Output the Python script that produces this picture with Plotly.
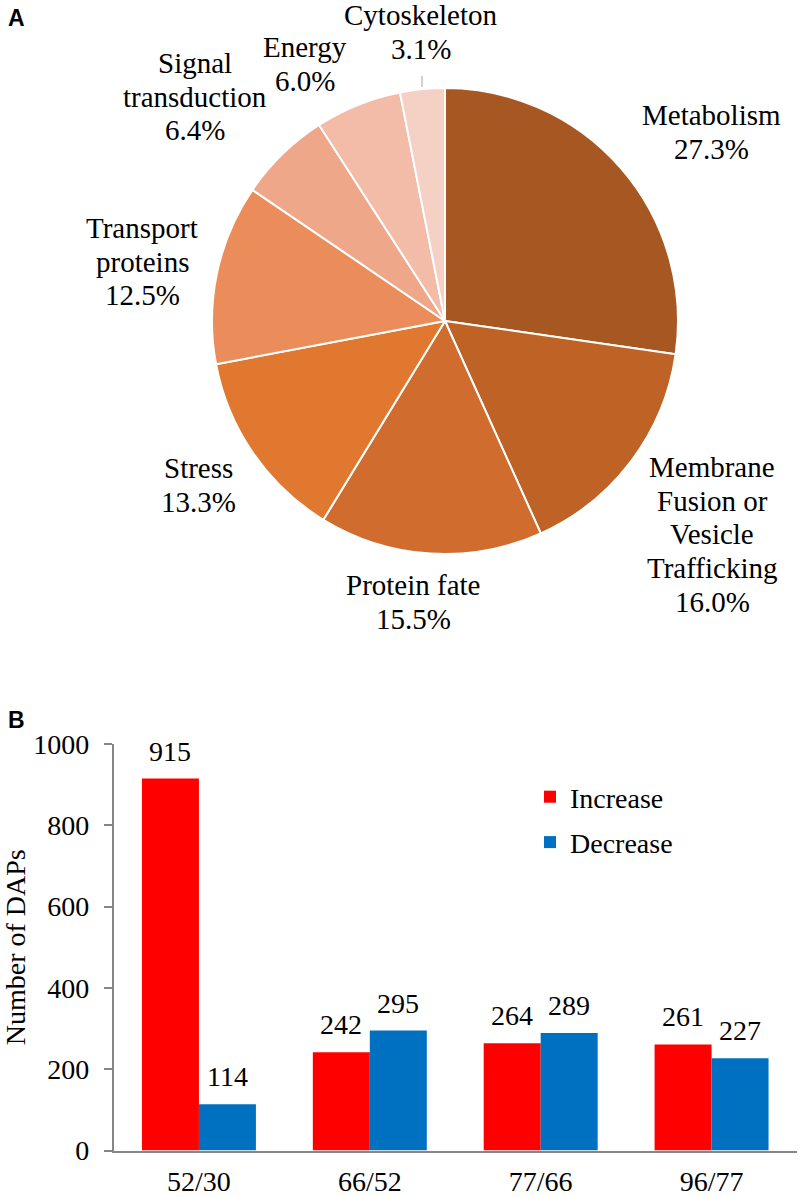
import plotly.graph_objects as go

# ---- Panel A data ----
pie_categories = ["Metabolism", "Membrane Fusion or Vesicle Trafficking", "Protein fate",
                  "Stress", "Transport proteins", "Signal transduction", "Energy", "Cytoskeleton"]
pie_label_lines = [["Metabolism"], ["Membrane", "Fusion or", "Vesicle", "Trafficking"],
                   ["Protein fate"], ["Stress"], ["Transport", "proteins"],
                   ["Signal", "transduction"], ["Energy"], ["Cytoskeleton"]]
pie_values = [27.3, 16.0, 15.5, 13.3, 12.5, 6.4, 6.0, 3.1]
pie_colors = ["#A65722", "#BF6226", "#D06C2D", "#E17830", "#EB8D5A", "#EFA789", "#F2BCA8", "#F5D0C4"]

# ---- Panel B data ----
bar_categories = ["52/30", "66/52", "77/66", "96/77"]
increase = [915, 242, 264, 261]
decrease = [114, 295, 289, 227]

W, H = 800, 1197
SERIF = "Liberation Serif"
SANS = "Liberation Sans"

fig = go.Figure()

# pie (centre 445,321 px; radius 233 px)
cx, cy, r = 445, 321, 233
fig.add_trace(go.Pie(
    labels=pie_categories, values=pie_values, sort=False, direction="clockwise",
    rotation=0, textinfo="none", hoverinfo="label+percent",
    marker=dict(colors=pie_colors, line=dict(color="white", width=2)),
    domain=dict(x=[(cx - r) / W, (cx + r) / W], y=[1 - (cy + r) / H, 1 - (cy - r) / H]),
    showlegend=False,
))

# bars
fig.add_trace(go.Bar(name="Increase", x=bar_categories, y=increase,
                     marker=dict(color="#FF0000", line=dict(width=0)),
                     legendgroup="inc"))
fig.add_trace(go.Bar(name="Decrease", x=bar_categories, y=decrease,
                     marker=dict(color="#0070C0", line=dict(width=0)),
                     legendgroup="dec"))

annotations = []
# pie labels (pixel anchors of first line centre)
label_pos = [(711, 115), (712, 467), (413, 585), (198, 468), (142, 228),
             (195, 63), (305, 47), (421, 15)]
LS = 33.7
for lines, v, (px, py) in zip(pie_label_lines, pie_values, label_pos):
    all_lines = lines + [f"{v:.1f}%"]
    for i, t in enumerate(all_lines):
        annotations.append(dict(
            text=t, x=px / W, y=1 - (py + i * LS) / H, xref="paper", yref="paper",
            xanchor="center", yanchor="middle", showarrow=False,
            font=dict(family=SERIF, size=29, color="black")))

# bar value labels
half = 28.5
for cat, a, b in zip(bar_categories, increase, decrease):
    for val, xs in ((a, -half), (b, half)):
        annotations.append(dict(
            text=str(val), x=cat, y=val, xref="x", yref="y", xshift=xs, yshift=10,
            xanchor="center", yanchor="bottom", showarrow=False,
            font=dict(family=SERIF, size=28, color="black")))

# panel letters
annotations.append(dict(text="<b>A</b>", x=16 / W, y=1 - 18 / H, xref="paper", yref="paper",
                        xanchor="center", yanchor="middle", showarrow=False,
                        font=dict(family=SANS, size=23, color="black")))
annotations.append(dict(text="<b>B</b>", x=16 / W, y=1 - 720 / H, xref="paper", yref="paper",
                        xanchor="center", yanchor="middle", showarrow=False,
                        font=dict(family=SANS, size=23, color="black")))

shapes = [dict(type="line", xref="paper", yref="paper", x0=422 / W, x1=422 / W,
               y0=1 - 76 / H, y1=1 - 87 / H, line=dict(color="#A0A0A0", width=1))]

AX = "#868686"
fig.update_layout(
    width=W, height=H, margin=dict(l=0, r=0, t=0, b=0),
    paper_bgcolor="white", plot_bgcolor="white",
    barmode="group", bargap=0.333, bargroupgap=0,
    annotations=annotations, shapes=shapes,
    font=dict(family=SERIF, size=28, color="black"),
    xaxis=dict(domain=[113.5 / W, 797 / W], showline=True, linecolor=AX, linewidth=1.5,
               ticks="", showgrid=False, zeroline=False, automargin=False,
               tickfont=dict(family=SERIF, size=28, color="black"), ticklabelstandoff=5),
    yaxis=dict(domain=[1 - 1150.5 / H, 1 - 744 / H], range=[0, 1000], dtick=200,
               showline=True, linecolor=AX, linewidth=1.5, ticks="outside", ticklen=8,
               tickcolor=AX, tickwidth=1.5, showgrid=False, zeroline=False, automargin=False,
               tickfont=dict(family=SERIF, size=28, color="black"), ticklabelstandoff=9,
               title=dict(text="Number of DAPs", font=dict(family=SERIF, size=28, color="black"),
                          standoff=0)),
    legend=dict(x=530 / W, y=1 - 772 / H, xanchor="left", yanchor="top",
                font=dict(family=SERIF, size=28, color="black"), bgcolor="rgba(0,0,0,0)",
                traceorder="grouped", tracegroupgap=6),
)

fig.write_html("out.html", config={"displayModeBar": False},
               post_script="document.body.style.margin='0';")
